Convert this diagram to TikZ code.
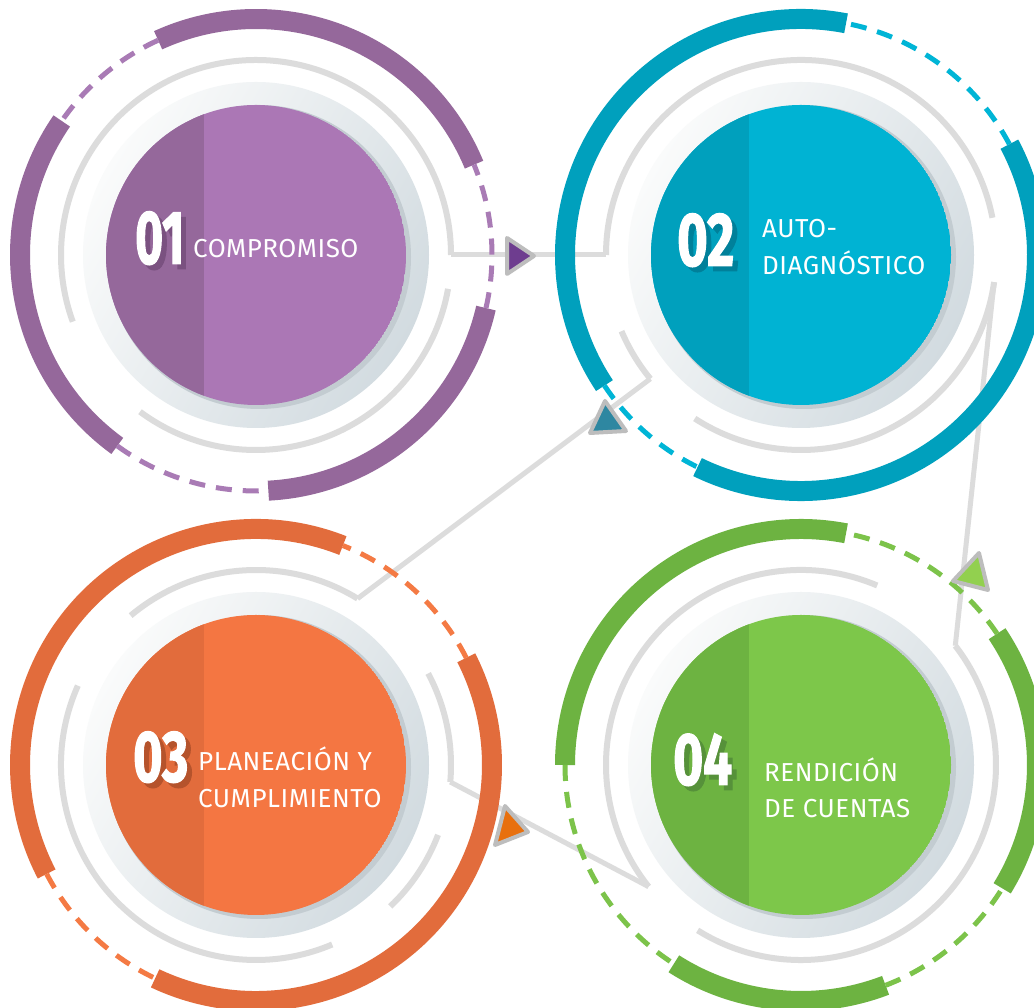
\documentclass[tikz,border=0pt]{standalone}
\usepackage{fontspec}
\usepackage{graphicx}
\setmainfont{Fira Sans}[LetterSpace=2]
\newfontfamily\numfont{Fira Sans}[BoldFeatures={FakeBold=2}]
\usetikzlibrary{calc}
\definecolor{greyline}{HTML}{DCDCDC}
\definecolor{tribord}{HTML}{BDBDBD}
\definecolor{haloL}{HTML}{FAFBFB}
\definecolor{haloR}{HTML}{D2DBE0}
\definecolor{shadowc}{HTML}{C3CCD1}
\definecolor{pMain}{HTML}{AB77B5}
\definecolor{pDark}{HTML}{95689B}
\definecolor{pDash}{HTML}{A97BB5}
\definecolor{pShad}{HTML}{7A5180}
\definecolor{pTri}{HTML}{6E3D8F}
\definecolor{bMain}{HTML}{00B3D3}
\definecolor{bDark}{HTML}{00A0BD}
\definecolor{bDash}{HTML}{00B5D6}
\definecolor{bShad}{HTML}{00809A}
\definecolor{bTri}{HTML}{2E87A1}
\definecolor{oMain}{HTML}{F47642}
\definecolor{oDark}{HTML}{E26C3C}
\definecolor{oDash}{HTML}{F47A44}
\definecolor{oShad}{HTML}{B5532C}
\definecolor{oTri}{HTML}{E8700E}
\definecolor{gMain}{HTML}{7DC74A}
\definecolor{gDark}{HTML}{6DB341}
\definecolor{gDash}{HTML}{7CC34A}
\definecolor{gShad}{HTML}{56913A}
\definecolor{gTri}{HTML}{92D04F}
\tikzset{
  greyarc/.style={draw=greyline, line width=6pt},
  thickarc/.style={line width=20pt},
  dasharc/.style={line width=5pt, dash pattern=on 16pt off 11pt},
  conn/.style={draw=greyline, line width=5pt, line join=round},
  tri/.style={draw=tribord, line width=4pt, line join=round},
  lbl/.style={text=white, font=\fontsize{26}{30}\selectfont, inner sep=0pt, anchor=base west},
  num/.style={inner sep=0pt, anchor=south west, text=white},
}
% number with its offset shadow in one box
\newcommand{\bignum}[5]{%
  \rlap{\hspace{5pt}\raisebox{-5pt}{\color{#5}\resizebox{#2pt}{#3pt}{\numfont\bfseries #1}}}%
  \resizebox{#2pt}{#3pt}{\numfont\bfseries #1}}
\newcommand{\ringarc}[5]{\draw[#1] (#2) ++(#3:#5) arc[start angle=#3, end angle=#4, radius=#5];}
\newcommand{\discgroup}[3]{%
  \shade[left color=haloL, right color=haloR, shading angle=60] (#1) circle[radius=173];
  \fill[shadowc] ($(#1)+(3,-2)$) circle[radius=152];
  \begin{scope}
    \clip (#1) circle[radius=150];
    \fill[#2] (#1) circle[radius=150];
    \fill[#3] ($(#1)+(-160,-160)$) rectangle ($(#1)+(-52,160)$);
  \end{scope}}
\begin{document}
\begin{tikzpicture}[x=1pt,y=1pt]
\useasboundingbox (0,0) rectangle (1034,1008);
\fill[white] (0,0) rectangle (1034,1008);
% centres
\coordinate (c1) at (256,753);
\coordinate (c2) at (801,753);
\coordinate (c3) at (256,243);
\coordinate (c4) at (801,243);
% connector ends on grey rings
\coordinate (e1r) at ($(c1)+(0:195)$);
\coordinate (e2l) at ($(c2)+(180:195)$);
\coordinate (e2b) at ($(c2)+(219.4:195)$);
\coordinate (e3t) at ($(c3)+(58.6:195)$);
\coordinate (e2r) at ($(c2)+(-8:195)$);
\coordinate (e4t) at ($(c4)+(37.7:195)$);
\coordinate (e3r) at ($(c3)+(-5:195)$);
\coordinate (e4l) at ($(c4)+(218.6:195)$);

% discs
\discgroup{c1}{pMain}{pDark}
\discgroup{c2}{bMain}{bDark}
\discgroup{c3}{oMain}{oDark}
\discgroup{c4}{gMain}{gDark}

% grey rings
\ringarc{greyarc}{c1}{0}{200}{195}
\ringarc{greyarc}{c1}{233.5}{350}{195}
\ringarc{greyarc}{c2}{11}{180}{195}
\ringarc{greyarc}{c2}{203}{219.4}{195}
\ringarc{greyarc}{c2}{237}{352}{195}
\ringarc{greyarc}{c3}{58.6}{130}{195}
\ringarc{greyarc}{c3}{156}{293}{195}
\ringarc{greyarc}{c3}{313.5}{339}{195}
\ringarc{greyarc}{c3}{355}{388}{195}
\ringarc{greyarc}{c4}{67}{218.6}{195}
\ringarc{greyarc}{c4}{238}{397.7}{195}

% connectors
\draw[conn] (e1r) -- (e2l);
\draw[conn] (e2b) -- (e3t);
\draw[conn] (e2r) -- (e4t);
\draw[conn] (e3r) -- (e4l);

% outer rings circle 1
\ringarc{thickarc,draw=pDark}{c1}{22.5}{114.5}{236}
\ringarc{thickarc,draw=pDark}{c1}{145.4}{234}{236}
\ringarc{thickarc,draw=pDark}{c1}{273}{347}{236}
\ringarc{dasharc,draw=pDash}{c1}{114.5}{145.4}{236}
\ringarc{dasharc,draw=pDash}{c1}{234}{273}{236}
\ringarc{dasharc,draw=pDash}{c1}{347}{382.5}{236}
% circle 2
\ringarc{thickarc,draw=bDark}{c2}{79}{213.6}{236}
\ringarc{thickarc,draw=bDark}{c2}{244}{388}{236}
\ringarc{dasharc,draw=bDash}{c2}{28}{79}{236}
\ringarc{dasharc,draw=bDash}{c2}{213.6}{244}{236}
% circle 3
\ringarc{thickarc,draw=oDark}{c3}{68.4}{207.5}{236}
\ringarc{thickarc,draw=oDark}{c3}{244.7}{387}{236}
\ringarc{dasharc,draw=oDash}{c3}{27}{68.4}{236}
\ringarc{dasharc,draw=oDash}{c3}{207.5}{244.7}{236}
% circle 4
\ringarc{thickarc,draw=gDark}{c4}{79}{180}{236}
\ringarc{thickarc,draw=gDark}{c4}{-31.5}{33.8}{236}
\ringarc{thickarc,draw=gDark}{c4}{237.4}{291}{236}
\ringarc{dasharc,draw=gDash}{c4}{33.8}{79}{236}
\ringarc{dasharc,draw=gDash}{c4}{180}{237.4}{236}
\ringarc{dasharc,draw=gDash}{c4}{291}{328.5}{236}

% arrow triangles
\draw[tri, fill=pTri] (507,770) -- (507,734) -- (534,752) -- cycle;
\draw[tri, fill=bTri] (605,607) -- (590,575) -- (626,577) -- cycle;
\draw[tri, fill=oTri] (505,202) -- (495,163) -- (528,176) -- cycle;
\draw[tri, fill=gTri] (979,455) -- (953,427) -- (988,418) -- cycle;

% numbers
\node[num] (n1) at (135,738) {\bignum{01}{49}{52}{}{pShad}};
\node[num] (n2) at (677,736) {\bignum{02}{57}{52}{}{bShad}};
\node[num] (n3) at (133,220) {\bignum{03}{55}{50}{}{oShad}};
\node[num] (n4) at (673,217) {\bignum{04}{59}{51}{}{gShad}};

% labels
\node[lbl] (t1) at (193,750) {COMPROMISO};
\node[lbl] (t2a) at (762,770) {AUTO-};
\node[lbl] (t2b) at (762,733) {DIAGNÓSTICO};
\node[lbl] (t3a) at (198,237) {PLANEACIÓN Y};
\node[lbl] (t3b) at (198,200) {CUMPLIMIENTO};
\node[lbl] (t4a) at (764,226) {RENDICIÓN};
\node[lbl] (t4b) at (764,190) {DE CUENTAS};
\end{tikzpicture}
\end{document}
